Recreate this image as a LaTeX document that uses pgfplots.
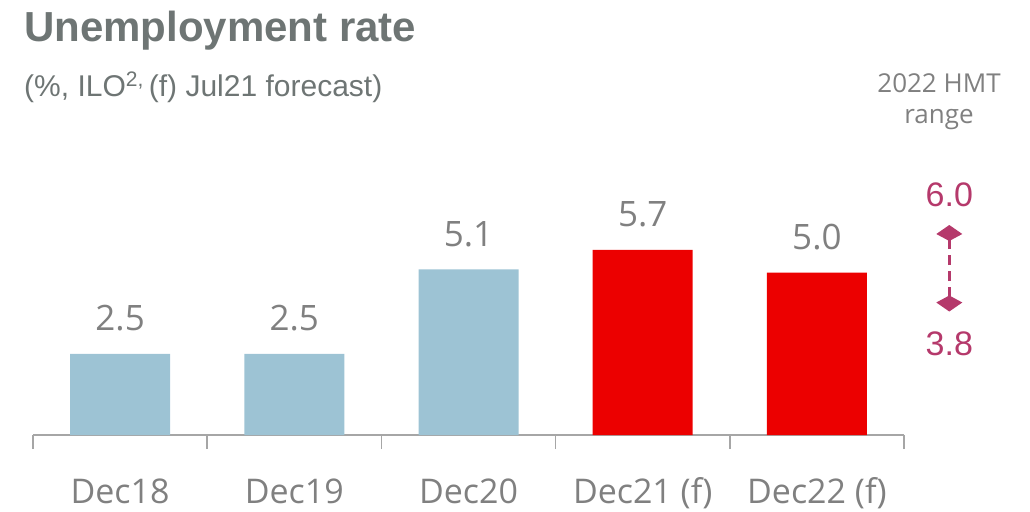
\documentclass[border=0pt]{standalone}
\usepackage{fontspec}
\usepackage{pgfplots}
\pgfplotsset{compat=1.18}
\usetikzlibrary{arrows.meta}
\setmainfont{Liberation Sans}
\newfontfamily\opensans{Open Sans}
\definecolor{titlegray}{HTML}{6E7574}
\definecolor{labelgray}{HTML}{808080}
\definecolor{axisgray}{HTML}{A6A6A6}
\definecolor{barblue}{HTML}{9DC3D4}
\definecolor{barred}{HTML}{EC0000}
\definecolor{rangepink}{HTML}{B5396B}

\begin{document}
\begin{tikzpicture}
\begin{axis}[
  at={(33pt,-435pt)}, anchor=south west,
  scale only axis, width=871pt, height=227.5pt,
  xmin=-0.5, xmax=4.5, ymin=0, ymax=7,
  axis x line*=bottom, axis y line=none,
  x axis line style={draw=axisgray, line width=1.5pt},
  xtick={0,...,4},
  xticklabels={Dec18,Dec19,Dec20,Dec21 (f),Dec22 (f)},
  major tick length=0pt,
  minor xtick={-0.5,0.5,...,4.5},
  minor tick length=14pt,
  tick align=outside,
  minor tick style={draw=axisgray, line width=1.5pt},
  xticklabel style={font=\opensans\fontsize{34}{40}\selectfont, text=labelgray, anchor=base, inner sep=0pt, yshift=-68pt},
  ytick=\empty,
  clip=false,
  /pgf/number format/assume math mode=true,
  ybar, bar width=100pt, bar shift=0pt,
  nodes near coords={\pgfmathprintnumber[fixed,fixed zerofill,precision=1]{\pgfplotspointmeta}},
  every node near coord/.append style={font=\opensans\fontsize{35}{40}\selectfont, text=labelgray, anchor=base, yshift=23pt},
]
\addplot[draw=none, fill=barblue] coordinates {(0,2.5) (1,2.5) (2,5.1)};
\addplot[draw=none, fill=barred] coordinates {(3,5.7) (4,5.0)};
% 2022 HMT range
\addplot[sharp plot, nodes near coords={}, rangepink, line width=3pt, dash pattern=on 10pt off 6pt,
  {Kite[length=16pt,width=26pt,inset=7pt]}-{Kite[length=16pt,width=26pt,inset=7pt]},
  shorten <=0pt, shorten >=-15pt] coordinates {(4.76,3.8) (4.76,6.0)};
\node[anchor=base, text=rangepink, font=\fontsize{34}{40}\selectfont, yshift=34pt] at (axis cs:4.76,6.0) {6.0};
\node[anchor=base, text=rangepink, font=\fontsize{34}{40}\selectfont, yshift=-43.5pt] at (axis cs:4.76,3.8) {3.8};
\end{axis}
\node[anchor=base west, inner sep=0, text=titlegray, font=\bfseries\fontsize{42}{48}\selectfont] at (24pt,-42pt) {Unemployment rate};
\node[anchor=base west, inner sep=0, text=titlegray, font=\fontsize{30}{36}\selectfont] at (24pt,-96pt) {(\%, ILO\textsuperscript{2,}\,(f) Jul21 forecast)};
\node[anchor=base, align=center, inner sep=0, text=labelgray, font=\opensans\fontsize{26}{31}\selectfont] at (939pt,-123pt) {2022 HMT\\range};
\pgfresetboundingbox
\path (0,0) rectangle (1030pt,-511pt);
\end{tikzpicture}
\end{document}
